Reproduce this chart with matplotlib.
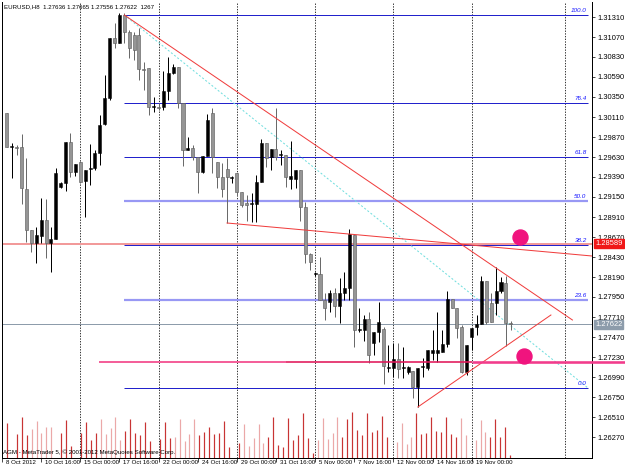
import matplotlib
matplotlib.use('Agg')
import matplotlib.pyplot as plt
import matplotlib.transforms as mtransforms
import numpy as np
from matplotlib.patches import Rectangle

# ---------------- data ----------------
opens = [1.30158, 1.29750, 1.29750, 1.29750, 1.29246, 1.28754, 1.28598, 1.28682, 1.28874, 1.28598,
         1.28646, 1.29270, 1.29318, 1.29810, 1.29450, 1.29570, 1.29342, 1.29486, 1.29498, 1.29678,
         1.30026, 1.30338, 1.31058, 1.30998, 1.31334, 1.31130, 1.31094, 1.31094, 1.30686, 1.30698,
         1.30230, 1.30230, 1.30230, 1.30422, 1.30638, 1.30710, 1.30278, 1.29714, 1.29738, 1.29630,
         1.29450, 1.29642, 1.30158, 1.29570, 1.29390, 1.29486, 1.29378, 1.29438, 1.29210, 1.29078,
         1.29066, 1.29066, 1.29330, 1.29798, 1.29630, 1.29726, 1.29654, 1.29654, 1.29366, 1.29366,
         1.29474, 1.29030, 1.28466, 1.28226, 1.28226, 1.27914, 1.27890, 1.27998, 1.27842, 1.27998,
         1.28058, 1.28694, 1.27554, 1.27554, 1.27686, 1.27398, 1.27530, 1.27566, 1.27098, 1.27098,
         1.27206, 1.27098, 1.27050, 1.27062, 1.26870, 1.27110, 1.27098, 1.27278, 1.27278, 1.27290,
         1.27386, 1.27926, 1.27818, 1.27590, 1.27050, 1.27470, 1.27590, 1.27626, 1.28142, 1.27878,
         1.27878, 1.28022, 1.28118, 1.27636]
highs = [1.30158, 1.29798, 1.29774, 1.29906, 1.29618, 1.28754, 1.28790, 1.29138, 1.29126, 1.28790,
         1.29498, 1.29330, 1.29810, 1.29918, 1.29546, 1.29582, 1.29474, 1.29786, 1.29714, 1.30134,
         1.30614, 1.31058, 1.31238, 1.31358, 1.31358, 1.31154, 1.31130, 1.31178, 1.30770, 1.30698,
         1.30350, 1.30278, 1.30662, 1.30830, 1.30746, 1.30710, 1.30278, 1.29870, 1.29774, 1.29630,
         1.29642, 1.30146, 1.30218, 1.29570, 1.29558, 1.29618, 1.29402, 1.29438, 1.29210, 1.29174,
         1.29198, 1.29414, 1.29846, 1.29798, 1.29726, 1.30218, 1.29714, 1.29654, 1.29822, 1.29474,
         1.29474, 1.29090, 1.28478, 1.28250, 1.28430, 1.27998, 1.28034, 1.28058, 1.28178, 1.28250,
         1.28766, 1.28694, 1.27818, 1.27734, 1.27770, 1.27530, 1.27890, 1.27590, 1.27374, 1.27398,
         1.27398, 1.27350, 1.27122, 1.27062, 1.27098, 1.27218, 1.27314, 1.27554, 1.27770, 1.27554,
         1.28022, 1.27926, 1.27818, 1.27614, 1.27374, 1.27578, 1.27734, 1.28202, 1.28142, 1.27998,
         1.28310, 1.28190, 1.28202, 1.27665]
lows = [1.29750, 1.29378, 1.29654, 1.29066, 1.28610, 1.28490, 1.28358, 1.28598, 1.28418, 1.28250,
        1.28646, 1.29258, 1.29222, 1.29390, 1.29402, 1.29318, 1.28910, 1.29294, 1.29474, 1.29534,
        1.30014, 1.30314, 1.30938, 1.30998, 1.30998, 1.30818, 1.30794, 1.30554, 1.30434, 1.30134,
        1.30170, 1.30194, 1.30194, 1.30314, 1.30626, 1.30218, 1.29522, 1.29714, 1.29594, 1.29198,
        1.29438, 1.29642, 1.29438, 1.29258, 1.29150, 1.28838, 1.29318, 1.29174, 1.29030, 1.28862,
        1.28850, 1.28850, 1.29330, 1.29510, 1.29474, 1.29594, 1.29534, 1.29270, 1.29246, 1.29258,
        1.28862, 1.28358, 1.28274, 1.28202, 1.27914, 1.27674, 1.27770, 1.27710, 1.27638, 1.27914,
        1.27914, 1.27350, 1.27530, 1.27422, 1.27158, 1.27254, 1.27410, 1.26906, 1.27050, 1.26990,
        1.26978, 1.26978, 1.27026, 1.26738, 1.26630, 1.26990, 1.27074, 1.27194, 1.27170, 1.27290,
        1.27350, 1.27818, 1.27458, 1.27038, 1.27014, 1.27314, 1.27494, 1.27626, 1.27626, 1.27650,
        1.27734, 1.27998, 1.27362, 1.27556]
closes = [1.29750, 1.29762, 1.29738, 1.29258, 1.28754, 1.28598, 1.28694, 1.28874, 1.28598, 1.28646,
          1.29438, 1.29318, 1.29810, 1.29450, 1.29546, 1.29330, 1.29474, 1.29498, 1.29678, 1.30014,
          1.30338, 1.31058, 1.30998, 1.31334, 1.31130, 1.30938, 1.30914, 1.30686, 1.30674, 1.30230,
          1.30230, 1.30218, 1.30422, 1.30638, 1.30710, 1.30278, 1.29714, 1.29738, 1.29630, 1.29450,
          1.29642, 1.30074, 1.29630, 1.29390, 1.29246, 1.29390, 1.29378, 1.29210, 1.29054, 1.29054,
          1.29066, 1.29330, 1.29798, 1.29618, 1.29726, 1.29630, 1.29654, 1.29390, 1.29402, 1.29474,
          1.29030, 1.28466, 1.28370, 1.28226, 1.27914, 1.27818, 1.27998, 1.27842, 1.27998, 1.28058,
          1.28706, 1.27554, 1.27554, 1.27686, 1.27254, 1.27530, 1.27650, 1.27122, 1.27098, 1.27206,
          1.27086, 1.27098, 1.27110, 1.26870, 1.27098, 1.27110, 1.27314, 1.27314, 1.27314, 1.27386,
          1.27926, 1.27818, 1.27578, 1.27050, 1.27374, 1.27578, 1.27626, 1.28142, 1.27650, 1.27650,
          1.28022, 1.28130, 1.27638, 1.27622]
volumes = [0, 14700, 0, 10100, 17200, 9700, 12200, 15500, 10500, 13000,
           13000, 0, 10500, 16000, 5000, 0, 10500, 15100, 7600, 10500,
           16400, 10100, 12600, 17200, 7600, 11300, 16400, 10500, 9700, 15100,
           7100, 0, 8000, 15100, 8400, 8800, 16400, 7100, 10100, 16400,
           9700, 10900, 13000, 10100, 10500, 15500, 4600, 0, 6300, 14300,
           5000, 8400, 14300, 6300, 8800, 17200, 5500, 4600, 16800, 7600,
           9700, 18900, 8400, 2100, 7600, 16800, 8000, 10500, 17200, 8800,
           16400, 19300, 11800, 9700, 18900, 10900, 11800, 17600, 8800, 0,
           6700, 14700, 5900, 8800, 18900, 10100, 10500, 17200, 11300, 10900,
           17200, 10100, 8800, 16800, 9700, 0, 7600, 16000, 10900, 8800,
           16400, 8800, 13000, 1267]
light_volume_bars = [6, 7, 8, 9, 10, 20, 21, 22, 23, 24, 35, 36, 37, 38, 39,
                     49, 50, 51, 52, 53, 64, 65, 66, 67, 68, 80, 81, 82, 83,
                     93, 94, 96, 97, 98]

date_labels = ['8 Oct 2012', '10 Oct 16:00', '15 Oct 00:00', '17 Oct 16:00', '22 Oct 00:00',
               '24 Oct 16:00', '29 Oct 00:00', '31 Oct 16:00', '5 Nov 00:00', '7 Nov 16:00',
               '12 Nov 00:00', '14 Nov 16:00', '19 Nov 00:00']
date_label_bars = [-1, 7, 15, 23, 31, 39, 47, 55, 63, 71, 79, 87, 95]
separator_bars = [15, 31, 47, 63, 79, 95, 114]

price_ticks = [1.31310, 1.31070, 1.30830, 1.30590, 1.30350, 1.30110, 1.29870, 1.29630,
               1.29390, 1.29150, 1.28910, 1.28670, 1.28430, 1.28190, 1.27950, 1.27710,
               1.27470, 1.27230, 1.26990, 1.26750, 1.26510, 1.26270]

fib_start_bar, fib_end_bar = 24, 118.7
fib_high, fib_low = 1.31334, 1.26862
fib_levels = [100.0, 76.4, 61.8, 50.0, 38.2, 23.6, 0.0]

hline_red = 1.28589
last_price = 1.27622
magenta_level = 1.27174
trend_down = [(24, 1.31334), (115.6, 1.27674)]
trend_flat = [(45, 1.28838), (119.6, 1.28442)]
trend_up = [(84, 1.26630), (111.2, 1.27734)]
circles = [(104.8, 1.28670), (105.8, 1.27248)]

header = 'EURUSD,H8  1.27636 1.27665 1.27556 1.27622  1267'
copyright_text = 'AGM - MetaTrader 5, \u00a9 2001-2012 MetaQuotes Software Corp.'

# ---------------- figure ----------------
W, H = 625, 470
fig = plt.figure(figsize=(W / 100, H / 100), dpi=100)
fig.patch.set_facecolor('white')
rect = [2 / W, 12 / H, 590 / W, 456 / H]

vax = fig.add_axes(rect, zorder=0)
ax = fig.add_axes(rect, zorder=1)
ax.patch.set_alpha(0)

xlim = (0, 119.6)
ylim = (1.26018, 1.31490)
ax.set_xlim(*xlim)
ax.set_ylim(*ylim)
vax.set_xlim(*xlim)
vax.set_ylim(0, 456 * 420)
vax.axis('off')

FONT = 'Liberation Sans'
SMALL = 4.4
px = 0.72  # one pixel in points

# volumes
n = len(opens)
for i in range(n):
    if volumes[i] <= 0:
        continue
    col = '#eba8a8' if i in light_volume_bars else '#c83434'
    vax.vlines(i, 0, volumes[i], color=col, lw=1.2 * px)

# separators
for b in separator_bars:
    ax.axvline(b, color='#222222', lw=0.9 * px, ls=(0, (1.5, 1.5)), zorder=1)

# fib levels
fib_range = fib_high - fib_low
for lv in fib_levels:
    p = fib_low + fib_range * lv / 100.0
    light = lv in (50.0, 23.6)
    ax.plot([fib_start_bar, fib_end_bar], [p, p], color='#9898f4' if light else '#2222cc',
            lw=(2.2 if light else 1.0) * px, zorder=2, solid_capstyle='butt')
    ax.annotate(f'{lv:.1f}', (fib_end_bar, p), xytext=(-1, 2), textcoords='offset pixels',
                ha='right', va='bottom', fontsize=4.6, color='#1a1aff', style='italic',
                family=FONT, zorder=6)
ax.plot([fib_start_bar, fib_end_bar], [fib_high, fib_low], color='#70dede',
        lw=1.0 * px, ls=(0, (2, 2)), zorder=2)

# horizontal lines
ax.axhline(hline_red, color='#f29a9a', lw=2.0 * px, zorder=2)
ax.axhline(last_price, color='#8d9cab', lw=1.0 * px, zorder=2)

# candles
body_w = 0.62
for i in range(n):
    o, h, l, c = opens[i], highs[i], lows[i], closes[i]
    bull = c >= o
    wick_col = '#000000' if bull else '#6a6a6a'
    ax.vlines(i, l, h, color=wick_col, lw=1.0 * px, zorder=3)
    lo, hi = min(o, c), max(o, c)
    hgt = max(hi - lo, 0.00012)
    if bull:
        ax.add_patch(Rectangle((i - body_w / 2, lo), body_w, hgt, facecolor='#000000',
                               edgecolor='#000000', lw=0.5 * px, zorder=4))
    else:
        ax.add_patch(Rectangle((i - body_w / 2, lo), body_w, hgt, facecolor='#959595',
                               edgecolor='#5e5e5e', lw=0.6 * px, zorder=4))

# trend lines
for seg in (trend_down, trend_flat, trend_up):
    ax.plot([seg[0][0], seg[1][0]], [seg[0][1], seg[1][1]], color='#f03c3c',
            lw=1.0 * px, zorder=5)

# magenta level (three overlapping pieces)
ax.plot([18.9, 57], [magenta_level, magenta_level], color='#f4609a', lw=2.0 * px, zorder=5,
        solid_capstyle='butt')
ax.plot([57, 95], [magenta_level, magenta_level], color='#e0185a', lw=1.6 * px, zorder=5,
        solid_capstyle='butt')
ax.plot([95, 126.4], [magenta_level, magenta_level], color='#f23c8c', lw=2.6 * px, zorder=5,
        solid_capstyle='butt', clip_on=False)

# circles
for cx, cy in circles:
    ax.plot(cx, cy, 'o', ms=15 * px, color='#f0147e', mec='#f0147e', zorder=6)

# axes styling
ax.spines['top'].set_visible(False)
for s in ('left', 'bottom', 'right'):
    ax.spines[s].set_color('black')
    ax.spines[s].set_linewidth(1.0 * px)

ax.yaxis.tick_right()
ax.set_yticks(price_ticks)
ax.set_yticklabels([f'{p:.5f}' for p in price_ticks], fontsize=5.4, family=FONT)
ax.tick_params(axis='y', length=2.5, width=0.7 * px, pad=1.5, colors='black')

ax.set_xticks(date_label_bars)
ax.set_xticklabels([])
ax.tick_params(axis='x', length=3, width=0.7 * px, colors='black')
trans = mtransforms.blended_transform_factory(ax.transData, ax.transAxes)
for b, lab in zip(date_label_bars, date_labels):
    ax.annotate(lab, (b, 0), xycoords=trans, xytext=(4, -2), textcoords='offset pixels',
                ha='left', va='top', fontsize=SMALL, family=FONT, annotation_clip=False)

# price boxes on the axis
ytrans = mtransforms.blended_transform_factory(ax.transAxes, ax.transData)
ax.annotate(f'{hline_red:.5f}', (1, hline_red), xycoords=ytrans, xytext=(3, 0),
            textcoords='offset pixels', ha='left', va='center', fontsize=5.4, family=FONT,
            color='white', annotation_clip=False,
            bbox=dict(boxstyle='square,pad=0.15', fc='#f01818', ec='#f01818'))
ax.annotate(f'{last_price:.5f}', (1, last_price), xycoords=ytrans, xytext=(3, 0),
            textcoords='offset pixels', ha='left', va='center', fontsize=5.4, family=FONT,
            color='white', annotation_clip=False,
            bbox=dict(boxstyle='square,pad=0.15', fc='#8d9cab', ec='#8d9cab'))

# texts
fig.text(4 / W, 1 - 7 / H, header, ha='left', va='center', fontsize=SMALL, family=FONT)
fig.text(3 / W, 1 - 452 / H, copyright_text, ha='left', va='center', fontsize=SMALL, family=FONT)

fig.savefig('out.png', dpi=100, facecolor='white')
